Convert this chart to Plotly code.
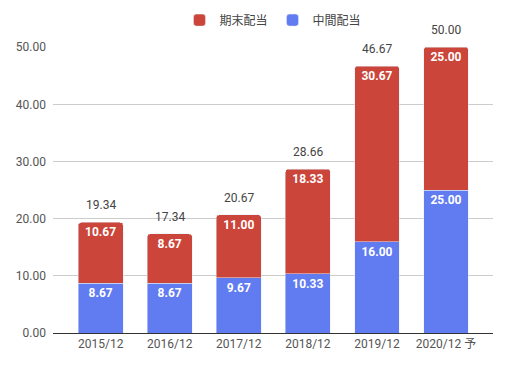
import plotly.graph_objects as go

categories = ["2015/12", "2016/12", "2017/12", "2018/12", "2019/12", "2020/12 予"]
interim = [8.67, 8.67, 9.67, 10.33, 16.00, 25.00]
year_end = [10.67, 8.67, 11.00, 18.33, 30.67, 25.00]
totals = [19.34, 17.34, 20.67, 28.66, 46.67, 50.00]
y_ticks = [0, 10, 20, 30, 40, 50]

BLUE = "#617bf0"
RED = "#cc453a"
FONT = "Roboto, 'Noto Sans CJK JP', sans-serif"

fig = go.Figure()
fig.add_trace(go.Bar(
    x=categories, y=interim, name="中間配当", marker_color=BLUE,
    text=[f"{v:.2f}" for v in interim], textposition="inside",
    insidetextanchor="end", textangle=0,
    textfont=dict(color="white", size=12, family=FONT, weight="bold"),
    width=0.65,
))
fig.add_trace(go.Bar(
    x=categories, y=year_end, name="期末配当", marker_color=RED,
    text=[f"{v:.2f}" for v in year_end], textposition="inside",
    insidetextanchor="end", textangle=0,
    textfont=dict(color="white", size=12, family=FONT, weight="bold"),
    width=0.65,
))
for c, t in zip(categories, totals):
    fig.add_annotation(x=c, y=t, text=f"{t:.2f}", showarrow=False,
                       yanchor="middle", yshift=17,
                       font=dict(size=12, color="#444", family=FONT))

fig.update_layout(
    width=501, height=360,
    barmode="stack", barcornerradius=3,
    margin=dict(l=45, r=16, t=39, b=35, autoexpand=False),
    paper_bgcolor="white", plot_bgcolor="white",
    font=dict(family=FONT, size=12, color="#444"),
    uniformtext=dict(mode=False),
    legend=dict(orientation="h", x=0.5, xanchor="center", y=1.094,
                yanchor="middle", traceorder="reversed",
                font=dict(size=12, color="#444", family=FONT)),
    xaxis=dict(range=[-0.69, 5.68], showline=True, linecolor="#333", linewidth=1,
               showgrid=False, tickfont=dict(size=12, color="#555"), ticks="",
               automargin=False),
    yaxis=dict(range=[0, 50.05], tickvals=y_ticks, tickformat=".2f",
               showgrid=True, gridcolor="#cccccc", zeroline=False,
               tickfont=dict(size=12, color="#555"), ticks="", ticklabelstandoff=6,
               automargin=False),
    showlegend=True,
)
fig.write_html("out.html")
